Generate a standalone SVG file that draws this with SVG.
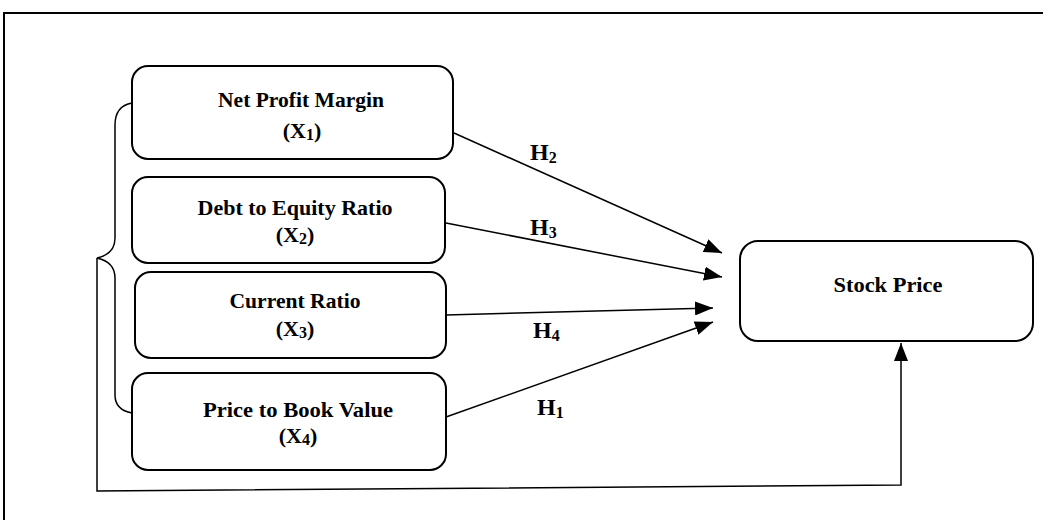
<svg xmlns="http://www.w3.org/2000/svg" width="1043" height="520" viewBox="0 0 1043 520">
<style>
.box{fill:#fff;stroke:#000;stroke-width:2}
.t{font-family:"Liberation Serif","Times New Roman",serif;font-weight:bold;font-size:22px;fill:#000;text-anchor:middle}
.h{font-family:"Liberation Serif","Times New Roman",serif;font-weight:bold;font-size:24px;fill:#000}
.sub{font-size:16px}
.c{fill:none;stroke:#000;stroke-width:1.5}
</style>
<defs>
<marker id="ah" markerUnits="userSpaceOnUse" markerWidth="20" markerHeight="14" refX="18" refY="7" orient="auto">
<path d="M0,0 L18,7 L0,14 Z" fill="#000"/>
</marker>
</defs>
<rect width="1043" height="520" fill="#fff"/>
<path d="M4,520 V13 H1043" fill="none" stroke="#000" stroke-width="2"/>
<g id="connectors">
<path class="c" d="M454,133 L722,253" marker-end="url(#ah)"/>
<path class="c" d="M446,223 L722,277" marker-end="url(#ah)"/>
<path class="c" d="M446,315 L713,308" marker-end="url(#ah)"/>
<path class="c" d="M446,417 L713,322" marker-end="url(#ah)"/>
<path class="c" d="M132,103 Q115,106 115,125 V238 Q115,254 97,258 Q115,262 115,278 V395 Q115,410 132,413"/>
<path class="c" d="M97,258 V491 L901,485 V343" marker-end="url(#ah)"/>
<text class="h" x="530" y="160">H<tspan class="sub" dy="3">2</tspan></text>
<text class="h" x="530" y="235">H<tspan class="sub" dy="3">3</tspan></text>
<text class="h" x="533" y="338">H<tspan class="sub" dy="3">4</tspan></text>
<text class="h" x="537" y="415">H<tspan class="sub" dy="3">1</tspan></text>
</g>
<g id="n1">
<rect class="box" x="132" y="66" width="321" height="93" rx="16"/>
<text class="t" x="301" y="107" textLength="166" lengthAdjust="spacingAndGlyphs">Net Profit Margin</text>
<text class="t" x="302" y="138">(X<tspan class="sub" dy="2">1</tspan><tspan dy="-2">)</tspan></text>
</g>
<g id="n2">
<rect class="box" x="132" y="177" width="313" height="86" rx="16"/>
<text class="t" x="295" y="215" textLength="195" lengthAdjust="spacingAndGlyphs">Debt to Equity Ratio</text>
<text class="t" x="295" y="242">(X<tspan class="sub" dy="2">2</tspan><tspan dy="-2">)</tspan></text>
</g>
<g id="n3">
<rect class="box" x="135" y="272" width="311" height="86" rx="16"/>
<text class="t" x="295" y="308" textLength="131" lengthAdjust="spacingAndGlyphs">Current Ratio</text>
<text class="t" x="295" y="336">(X<tspan class="sub" dy="2">3</tspan><tspan dy="-2">)</tspan></text>
</g>
<g id="n4">
<rect class="box" x="132" y="373" width="314" height="97" rx="16"/>
<text class="t" x="298" y="417" textLength="190" lengthAdjust="spacingAndGlyphs">Price to Book Value</text>
<text class="t" x="298" y="443">(X<tspan class="sub" dy="2">4</tspan><tspan dy="-2">)</tspan></text>
</g>
<g id="n5">
<rect class="box" x="740" y="241" width="293" height="100" rx="18"/>
<text class="t" x="888" y="292" textLength="109" lengthAdjust="spacingAndGlyphs">Stock Price</text>
</g>
</svg>
